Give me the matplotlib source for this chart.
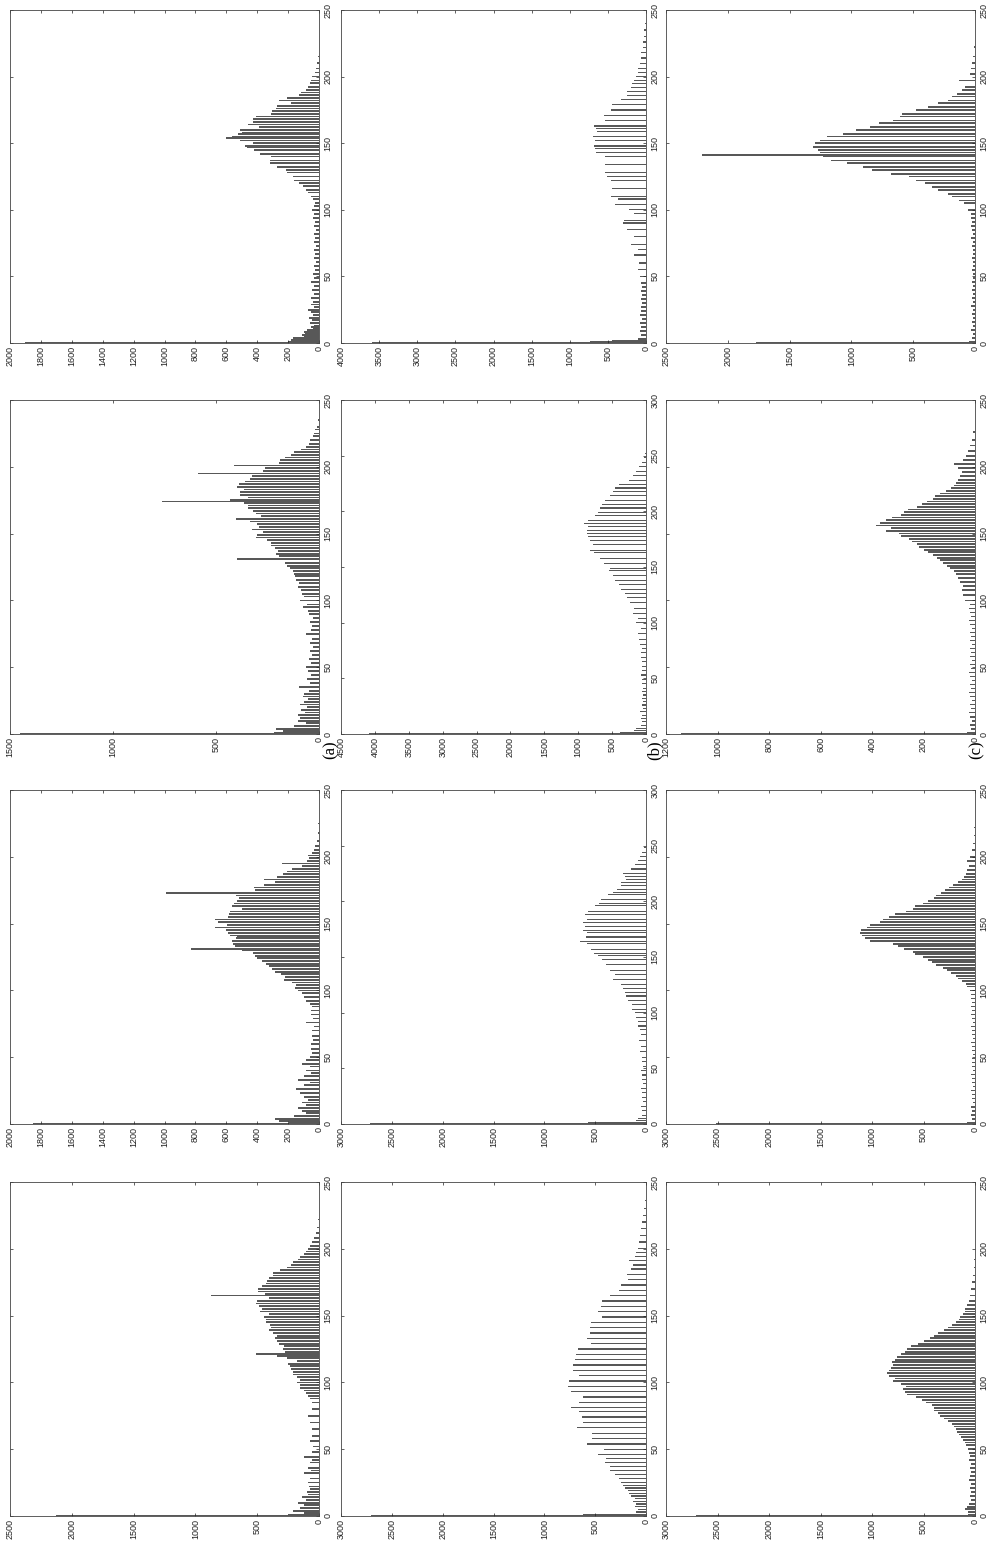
import matplotlib
matplotlib.use('Agg')
import matplotlib.pyplot as plt

# histogram bars per panel: (bin, count)
# column (a)
bins_a1 = [0, 1, 2, 3, 4, 5, 6, 7, 8, 9, 10, 11, 12, 13, 15, 17, 19, 21, 23, 25, 27, 29, 31, 34, 37, 40, 43, 46, 49, 52, 55, 58, 61, 64, 67, 70, 73, 76, 79, 82, 85, 88, 91, 94, 97, 100, 103,
           105, 108, 110, 113, 115, 118, 120, 122, 125, 128, 130, 132, 135, 137, 140, 142, 145, 147, 148, 150, 152, 154, 155, 157, 158, 160, 162, 164, 166, 168, 170, 172, 174, 176, 178, 180, 182, 184, 186, 188, 190, 192, 195, 197, 200, 203, 206, 210, 215]
counts_a1 = [1900, 200, 180, 150, 170, 100, 110, 90, 100, 60, 80, 40, 55, 30, 60, 45, 65, 40, 55, 70, 35, 50, 40, 55, 35, 45, 30, 50, 35, 40, 25, 35, 20, 35, 25, 30, 20, 35, 25, 30, 20, 35, 25, 40, 30, 45, 35,
             29, 39, 50, 72, 84, 105, 127, 160, 171, 204, 215, 270, 318, 318, 313, 379, 419, 467, 479, 424, 512, 600, 566, 522, 500, 512, 391, 457, 428, 424, 406, 313, 303, 281, 270, 182, 257, 204, 127, 117, 84, 72, 61, 50, 44, 29, 17, 10, 4]

bins_a2 = [0, 1, 2, 4, 6, 8, 10, 12, 14, 16, 18, 20, 22, 24, 26, 28, 30, 32, 35, 38, 41, 44, 47, 50, 53, 56, 59, 62, 65, 68, 71, 75, 78, 81, 84, 87, 90, 92, 95, 97, 100, 103, 105, 108, 110, 113, 115, 118, 120, 122, 124, 126, 128,
           131, 133, 135, 137, 139, 141, 143, 145, 147, 149, 151, 153, 155, 157, 159, 161, 163, 165, 167, 169, 171, 173, 174, 175, 177, 179, 181, 183, 185, 187, 189, 191, 193, 195, 197, 199, 201, 203, 205, 207, 209, 211, 213, 215, 217, 220, 223, 225, 228, 230, 235]
counts_a2 = [1450, 217, 176, 208, 119, 62, 100, 91, 100, 70, 85, 60, 90, 75, 55, 80, 72, 50, 95, 45, 60, 40, 55, 62, 40, 50, 35, 45, 30, 45, 35, 62, 40, 35, 45, 30, 50, 53, 76, 60, 91, 72, 81, 85, 100, 96, 110, 115, 119, 128, 142, 157, 166,
             400, 195, 210, 198, 214, 232, 232, 251, 308, 299, 270, 327, 293, 299, 336, 403, 280, 308, 318, 346, 346, 365, 760, 431, 346, 384, 384, 365, 399, 388, 361, 336, 327, 588, 270, 261, 412, 195, 191, 166, 134, 119, 85, 62, 47, 43, 30, 25, 18, 12, 6]

bins_a3 = [0, 1, 2, 4, 6, 8, 10, 12, 14, 16, 18, 20, 23, 26, 29, 31, 33, 36, 38, 40, 43, 45, 48, 50, 53, 56, 60, 63, 66, 70, 73, 76, 79, 82, 85, 88, 90, 92, 95, 98, 100, 102, 104, 106, 108, 110, 112, 114, 116, 118, 120, 122, 124, 126, 128,
           130, 131, 133, 135, 137, 139, 140, 141, 143, 145, 147, 149, 151, 153, 155, 157, 159, 161, 163, 165, 167, 169, 171, 173, 175, 177, 179, 181, 183, 185, 187, 189, 191, 193, 195, 197, 199, 201, 203, 205, 208, 212, 218, 225]
counts_a3 = [1850, 197, 260, 285, 159, 83, 113, 134, 83, 108, 70, 96, 121, 146, 96, 60, 134, 96, 55, 83, 60, 108, 83, 58, 45, 55, 50, 40, 45, 45, 35, 83, 40, 50, 55, 45, 60, 83, 96, 108, 139, 154, 148, 177, 227, 217, 246, 284, 305, 322, 343, 371, 400, 415, 429,
             501, 830, 545, 554, 560, 539, 531, 574, 589, 604, 670, 595, 652, 676, 589, 583, 574, 501, 560, 551, 531, 516, 537, 990, 415, 421, 357, 284, 357, 270, 235, 206, 177, 110, 240, 80, 67, 70, 45, 35, 25, 15, 8, 4]

bins_a4 = [0, 1, 2, 4, 6, 8, 10, 12, 14, 16, 18, 20, 22, 25, 28, 32, 34, 36, 40, 42, 44, 48, 52, 56, 60, 65, 70, 75, 80, 85, 88, 90, 92, 94, 96, 98, 100, 102, 104, 106, 108, 110, 112, 114, 116, 118, 120, 121, 123, 125, 127, 129,
           131, 133, 135, 137, 139, 141, 143, 145, 147, 149, 151, 153, 155, 157, 159, 161, 163, 165, 166, 168, 170, 172, 174, 176, 178, 180, 182, 184, 186, 188, 190, 192, 194, 196, 198, 200, 202, 205, 208, 212, 216, 222]
counts_a4 = [2130, 250, 119, 213, 150, 119, 166, 103, 135, 90, 100, 75, 80, 90, 70, 119, 65, 88, 72, 55, 119, 60, 50, 70, 55, 60, 75, 88, 56, 56, 72, 88, 103, 119, 150, 157, 182, 157, 182, 213, 213, 229, 238, 250, 182, 260, 338, 511, 276, 291, 282, 323,
             338, 354, 338, 370, 401, 385, 395, 432, 432, 448, 401, 479, 464, 489, 511, 501, 401, 877, 439, 495, 495, 464, 432, 417, 401, 370, 370, 313, 260, 229, 213, 166, 150, 119, 103, 88, 72, 56, 40, 25, 15, 8]

# column (b)
bins_b1 = [0, 1, 2, 3, 6, 9, 12, 15, 18, 21, 24, 27, 30, 33, 36, 39, 42, 45, 50, 55, 60, 66, 70, 74, 80, 85, 90, 92, 97, 100, 104, 108, 110, 116, 122, 125, 128, 134, 140, 143, 146, 148, 152, 155, 159, 161, 163, 167, 171, 175,
           179, 183, 186, 189, 192, 195, 197, 200, 203, 206, 210, 214, 218, 222, 226, 230, 235, 240, 245]
counts_b1 = [3600, 730, 450, 100, 70, 85, 60, 75, 55, 80, 60, 70, 50, 65, 55, 60, 50, 65, 76, 101, 91, 152, 101, 203, 162, 253, 304, 289, 152, 228, 405, 365, 456, 440, 456, 506, 532, 542, 542, 658, 668, 684, 668, 694, 643, 658, 684, 532, 557, 456,
             440, 329, 253, 253, 192, 187, 152, 127, 101, 111, 76, 61, 61, 45, 40, 30, 20, 12, 6]

bins_b2 = [0, 1, 3, 5, 8, 11, 14, 17, 20, 23, 26, 29, 32, 35, 38, 41, 45, 49, 53, 57, 61, 65, 69, 73, 77, 80, 85, 90, 95, 100, 104, 108, 113, 118, 123, 126, 130, 134, 138, 142, 147, 149, 153, 158, 163, 165, 170, 174, 177, 180,
           183, 186, 189, 192, 196, 199, 203, 206, 210, 214, 218, 221, 224, 228, 232, 236, 240, 244, 248, 252]
counts_b2 = [4080, 380, 180, 150, 70, 60, 75, 55, 85, 50, 65, 45, 60, 50, 55, 45, 57, 60, 70, 55, 65, 60, 70, 75, 65, 85, 96, 113, 68, 141, 113, 187, 170, 243, 283, 311, 368, 396, 453, 481, 549, 526, 623, 679, 764, 832, 775, 821, 849, 877,
             866, 849, 922, 849, 753, 707, 679, 651, 606, 538, 481, 453, 396, 255, 198, 141, 96, 57, 30, 10]

bins_b3 = [0, 1, 3, 5, 8, 12, 16, 20, 24, 28, 32, 36, 40, 44, 48, 52, 56, 60, 65, 70, 75, 80, 85, 88, 92, 96, 100, 103, 107, 111, 115, 118, 122, 125, 130, 134, 138, 143, 148, 151, 153, 157, 162, 164, 168, 172, 174, 177, 181, 184,
           188, 191, 196, 198, 202, 206, 208, 211, 214, 217, 220, 222, 225, 229, 233, 237, 240, 244, 248]
counts_b3 = [2717, 566, 94, 75, 40, 35, 45, 30, 40, 35, 45, 30, 40, 35, 45, 30, 40, 35, 57, 49, 64, 45, 57, 75, 83, 102, 113, 140, 140, 177, 200, 208, 226, 245, 321, 302, 351, 396, 434, 472, 509, 540, 585, 649, 592, 585, 623, 604, 623, 585,
             604, 566, 498, 464, 442, 377, 321, 283, 245, 245, 196, 208, 226, 151, 113, 75, 57, 35, 15]

bins_b4 = [0, 1, 3, 5, 7, 9, 11, 13, 15, 17, 19, 21, 23, 25, 28, 31, 34, 37, 40, 43, 46, 50, 54, 58, 62, 66, 70, 74, 78, 81, 85, 89, 93, 97, 101, 105, 109, 113, 117, 121, 125, 129, 133, 137, 141, 145, 149, 153, 157, 161,
           165, 169, 173, 177, 181, 185, 188, 191, 194, 197, 200, 205, 210, 215, 220, 225, 230, 236]
counts_b4 = [2706, 623, 94, 75, 113, 94, 132, 113, 151, 170, 177, 208, 226, 245, 264, 302, 358, 358, 404, 389, 472, 415, 585, 528, 528, 679, 623, 630, 660, 736, 660, 623, 736, 766, 755, 660, 717, 717, 698, 691, 668, 540, 585, 547, 547, 540, 434, 472, 442, 434,
             358, 264, 245, 177, 189, 151, 132, 170, 113, 102, 75, 64, 57, 45, 35, 25, 15, 8]

# column (c)
bins_c1 = [0, 1, 4, 7, 10, 13, 16, 19, 22, 25, 28, 31, 34, 37, 40, 43, 46, 49, 52, 55, 58, 61, 64, 67, 70, 73, 76, 79, 82, 85, 88, 91, 94, 97, 100, 105, 107, 110, 112, 115, 117, 120, 122, 125, 127, 130, 132, 135, 137, 140,
           141, 143, 145, 147, 150, 152, 155, 157, 160, 162, 165, 167, 170, 172, 175, 177, 180, 182, 185, 187, 190, 192, 197, 202, 206, 210, 215, 222]
counts_c1 = [1774, 47, 25, 20, 30, 20, 25, 15, 25, 20, 30, 20, 25, 15, 25, 20, 25, 15, 20, 25, 15, 20, 25, 15, 20, 25, 20, 30, 20, 25, 30, 25, 35, 30, 55, 92, 129, 185, 221, 296, 351, 406, 480, 536, 683, 830, 904, 1034, 1163, 1226,
             2210, 1252, 1274, 1307, 1293, 1255, 1200, 1070, 960, 849, 776, 665, 610, 591, 480, 377, 296, 221, 185, 147, 103, 81, 129, 44, 33, 23, 14, 7]

bins_c2 = [0, 1, 4, 7, 10, 13, 16, 19, 22, 25, 28, 31, 34, 37, 40, 43, 46, 49, 52, 55, 58, 61, 64, 67, 70, 73, 76, 79, 82, 85, 88, 91, 94, 97, 100, 104, 108, 111, 114, 117, 120, 122, 124, 126, 128, 130, 132, 134, 136, 138,
           140, 142, 144, 146, 148, 150, 152, 154, 156, 158, 160, 162, 164, 166, 168, 170, 172, 174, 176, 178, 180, 182, 184, 186, 188, 190, 193, 196, 199, 202, 205, 208, 212, 216, 220, 226]
counts_c2 = [1142, 30, 15, 20, 12, 18, 25, 15, 20, 12, 18, 22, 15, 20, 12, 18, 22, 15, 20, 12, 18, 15, 20, 12, 18, 15, 20, 12, 18, 22, 15, 20, 25, 18, 40, 45, 51, 45, 58, 66, 72, 82, 99, 107, 123, 134, 147, 165, 181, 198,
             216, 225, 246, 257, 288, 297, 344, 328, 383, 369, 344, 324, 288, 277, 262, 225, 205, 185, 165, 154, 134, 113, 92, 82, 72, 66, 58, 51, 66, 82, 45, 36, 27, 19, 12, 7]

bins_c3 = [0, 1, 4, 7, 10, 13, 16, 19, 22, 25, 28, 31, 34, 37, 40, 43, 46, 49, 52, 55, 58, 61, 64, 67, 70, 73, 76, 79, 82, 85, 88, 91, 94, 97, 100, 103, 105, 107, 109, 111, 113, 115, 117, 119, 121, 123, 125, 127, 129, 131,
           133, 135, 137, 139, 141, 143, 145, 147, 149, 151, 153, 155, 157, 159, 161, 163, 165, 167, 169, 171, 173, 175, 177, 179, 181, 183, 185, 187, 190, 193, 197, 200, 205, 210, 216, 222]
counts_c3 = [2514, 76, 30, 40, 25, 35, 20, 30, 25, 35, 20, 30, 25, 35, 20, 30, 25, 30, 20, 30, 25, 35, 20, 30, 25, 35, 20, 30, 40, 25, 35, 30, 40, 35, 50, 75, 84, 125, 167, 188, 230, 272, 314, 376, 418, 460, 502, 585, 606, 690,
             752, 794, 1023, 1065, 1095, 1120, 1107, 1053, 1023, 920, 890, 836, 773, 669, 606, 585, 502, 460, 397, 376, 334, 293, 251, 209, 167, 125, 105, 84, 75, 63, 75, 51, 33, 22, 13, 7]

bins_c4 = [0, 1, 3, 5, 7, 9, 12, 15, 18, 21, 24, 27, 30, 33, 36, 39, 42, 45, 47, 50, 53, 55, 57, 59, 61, 63, 65, 67, 69, 71, 73, 75, 77, 79, 81, 83, 85, 87, 89, 91, 93, 95, 97, 99, 101, 103, 105, 107, 109, 111,
           113, 115, 117, 119, 121, 123, 125, 127, 129, 131, 133, 135, 137, 139, 141, 143, 145, 147, 149, 151, 153, 155, 158, 161, 165, 170, 175, 180, 186, 192]
counts_c4 = [2708, 68, 68, 95, 76, 57, 40, 50, 35, 45, 40, 55, 45, 35, 50, 40, 55, 45, 57, 68, 83, 95, 114, 133, 159, 170, 189, 208, 227, 265, 303, 341, 360, 398, 398, 417, 473, 511, 576, 663, 682, 701, 674, 720, 795, 777, 833, 852, 833, 814,
             795, 803, 777, 758, 720, 682, 663, 625, 549, 492, 436, 398, 360, 303, 258, 227, 189, 159, 144, 121, 95, 95, 76, 57, 45, 35, 25, 18, 10, 6]

# axis ranges: (count max, count step, bin max)
limits = {
    'a1': (2000, 200, 250), 'a2': (1500, 500, 250), 'a3': (2000, 200, 250), 'a4': (2500, 500, 250),
    'b1': (4000, 500, 250), 'b2': (4500, 500, 300), 'b3': (3000, 500, 300), 'b4': (3000, 500, 250),
    'c1': (2500, 500, 250), 'c2': (1200, 200, 250), 'c3': (3000, 500, 250), 'c4': (3000, 500, 250),
}
data = {
    'a1': (bins_a1, counts_a1), 'a2': (bins_a2, counts_a2), 'a3': (bins_a3, counts_a3), 'a4': (bins_a4, counts_a4),
    'b1': (bins_b1, counts_b1), 'b2': (bins_b2, counts_b2), 'b3': (bins_b3, counts_b3), 'b4': (bins_b4, counts_b4),
    'c1': (bins_c1, counts_c1), 'c2': (bins_c2, counts_c2), 'c3': (bins_c3, counts_c3), 'c4': (bins_c4, counts_c4),
}
group_labels = ['(a)', '(b)', '(c)']

W, H = 986, 1543
col_x = {'a': (10, 319), 'b': (341, 646), 'c': (666, 975)}
row_y = {'1': (10, 343), '2': (400, 734), '3': (790, 1124), '4': (1182, 1516)}
label_x = {'a': 331, 'b': 655, 'c': 977}
label_y = 750

plt.rcParams['font.family'] = ['Liberation Sans', 'DejaVu Sans']
fig = plt.figure(figsize=(W / 100, H / 100), dpi=100)

for key, (bins, counts) in data.items():
    cmax, cstep, bmax = limits[key]
    x0, x1 = col_x[key[0]]
    y0, y1 = row_y[key[1]]
    ax = fig.add_axes([x0 / W, 1 - y1 / H, (x1 - x0) / W, (y1 - y0) / H])
    thick = 1.0 if key[0] == 'b' else 1.3
    ax.barh(bins, counts, height=thick, color='#585858', linewidth=0)
    ax.set_xlim(cmax, 0)
    ax.set_ylim(0, bmax)
    ax.set_xticks(range(0, cmax + 1, cstep))
    ax.set_yticks(range(0, bmax + 1, 50))
    ax.yaxis.tick_right()
    ax.tick_params(axis='both', direction='in', length=2.5, width=0.5, labelsize=6.5,
                   top=True, bottom=True, left=True, right=True, colors='#222222')
    ax.tick_params(axis='x', pad=2, labelrotation=90)
    ax.tick_params(axis='y', pad=3, labelrotation=90)
    for lab in ax.get_yticklabels():
        lab.set_verticalalignment('center')
    for sp in ax.spines.values():
        sp.set_linewidth(0.6)
        sp.set_color('#444444')

for g, lab in zip('abc', group_labels):
    fig.text(label_x[g] / W, 1 - label_y / H, lab, rotation=90, ha='center', va='center',
             family='Liberation Serif', fontsize=12)

fig.savefig('out.png', dpi=100)
